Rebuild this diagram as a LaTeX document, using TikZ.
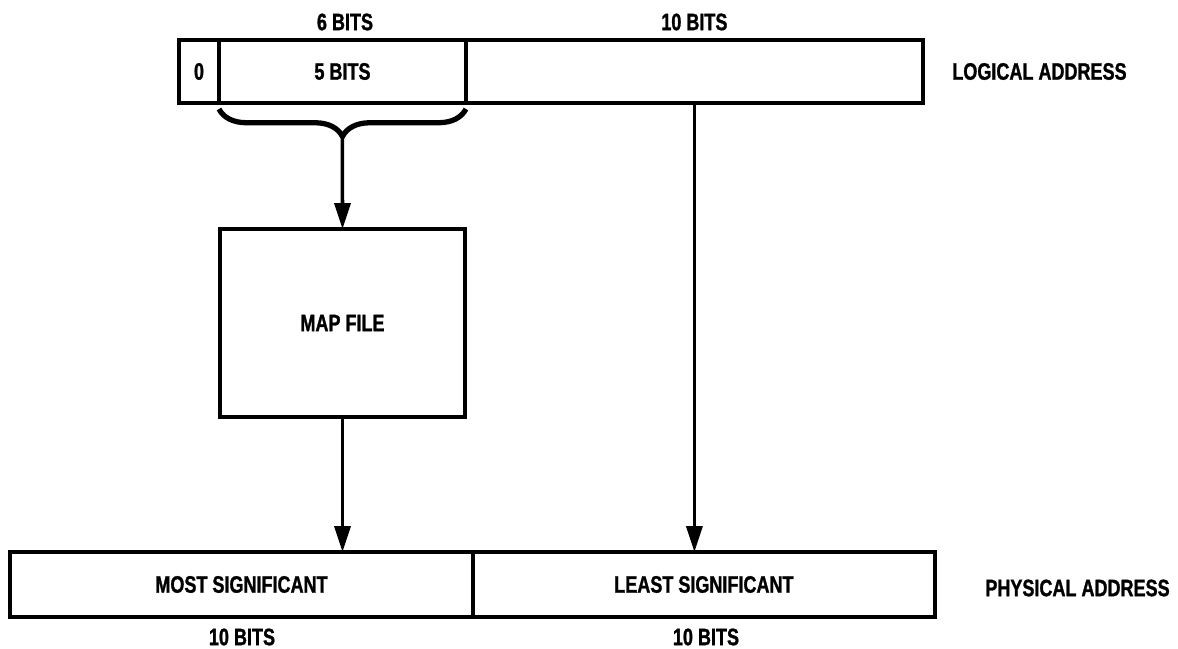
\documentclass[tikz,border=0pt]{standalone}
\usepackage{fontspec}
\newfontfamily\lblfont[FakeStretch=0.76, FakeBold=1.2]{Liberation Sans}
\usetikzlibrary{arrows.meta,decorations.pathreplacing,positioning}

\begin{document}
\begin{tikzpicture}[
		x=0.02cm, y=-0.02cm,
		field/.style={draw, line width=2pt, outer sep=0pt, inner sep=0pt,
			minimum height=1.26cm, font=\lblfont\bfseries\fontsize{13.5}{16}\selectfont},
		lbl/.style={font=\lblfont\bfseries\fontsize{13.5}{16}\selectfont, inner sep=0pt},
		flow/.style={-{Triangle[length=0.52cm, width=0.32cm]}, line width=2pt},
		grp/.style={decorate, decoration={brace, mirror, amplitude=0.55cm},
			line width=3pt}
	]
	\useasboundingbox (0,0) rectangle (1178,649);
	% logical address
	\node[field, minimum width=0.8cm] (zero) at (199,71.5) {0};
	\node[field, minimum width=4.94cm, right=0pt of zero] (five) {5 BITS};
	\node[field, minimum width=9.14cm, right=0pt of five] (ten) {};
	\node[lbl] (sixbits) at (345,22) {6 BITS};
	\node[lbl] (tenbits) at (ten.north |- sixbits) {10 BITS};
	\node[lbl, anchor=west] (logical) at (952,71.5) {LOGICAL ADDRESS};

	% page bits into the map file
	\draw[grp] ([yshift=-0.12cm]zero.south east) -- ([yshift=-0.12cm]five.south east);
	\coordinate (tip) at ([yshift=-0.72cm]five.south);
	\node[field, minimum width=4.9cm, minimum height=3.76cm] (map) at (342.5,323) {MAP FILE};
	\draw[flow] (tip) -- (map.north);

	% physical address
	\node[field, minimum width=9.26cm, minimum height=1.3cm] (msb) at (241.5,584.5) {MOST SIGNIFICANT};
	\node[field, minimum width=9.24cm, minimum height=1.3cm, right=0pt of msb] (lsb) {LEAST SIGNIFICANT};
	\node[lbl] (msbbits) at (242,637) {10 BITS};
	\node[lbl] (lsbbits) at (706,637) {10 BITS};
	\node[lbl, anchor=west] (physical) at (985,588) {PHYSICAL ADDRESS};

	\draw[flow] (map.south) -- (map.south |- msb.north);
	\draw[flow] (ten.south) -- (ten.south |- lsb.north);
\end{tikzpicture}
\end{document}
